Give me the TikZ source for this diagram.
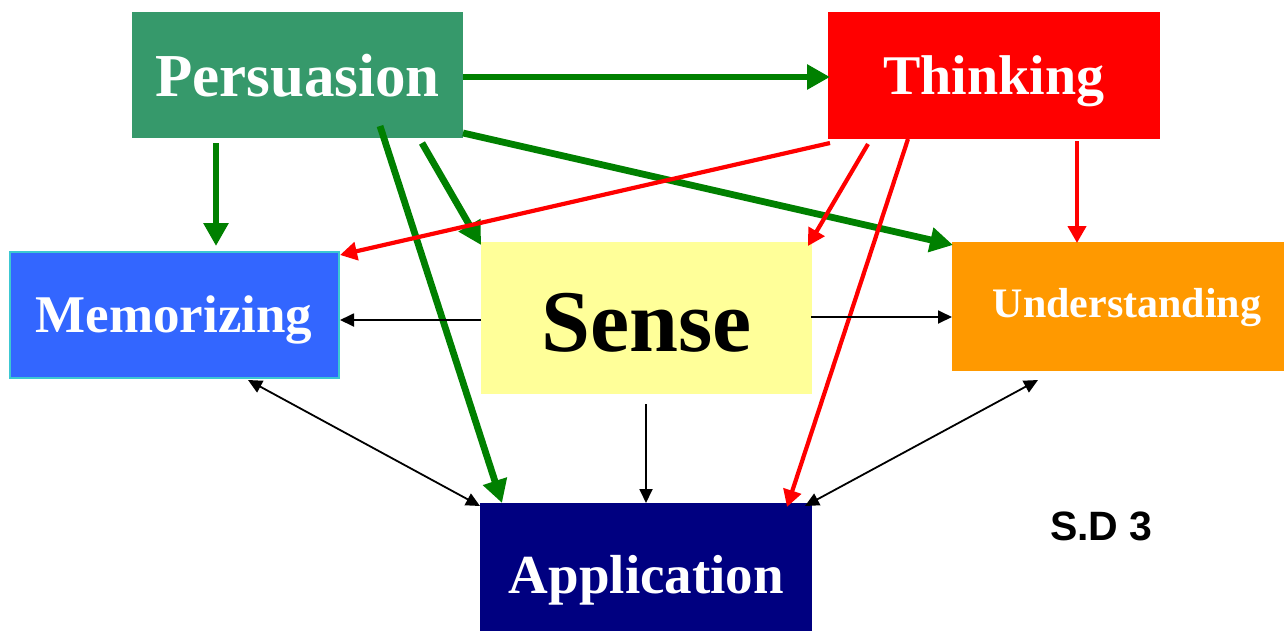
\documentclass[tikz,border=0pt]{standalone}
\usepackage{fontspec}
\setmainfont{Liberation Serif}
\newfontfamily\sdfont{Liberation Sans}
\usetikzlibrary{arrows.meta}
\definecolor{persC}{RGB}{54,153,107}
\definecolor{memC}{RGB}{51,102,255}
\definecolor{memB}{RGB}{60,200,210}
\definecolor{senseC}{RGB}{255,255,153}
\definecolor{undC}{RGB}{255,153,0}
\definecolor{appC}{RGB}{0,0,128}
\definecolor{arrG}{RGB}{0,128,0}
\tikzset{
  box/.style={anchor=north west, inner sep=0pt, outer sep=0pt, draw=none},
  lbl/.style={anchor=base, inner sep=0pt, font=\bfseries, text=white},
  garrow/.style={draw=arrG, line width=6.8pt, -{Triangle[length=23pt,width=24pt]}},
  rarrow/.style={draw=red, line width=4.2pt, -{Triangle[length=17pt,width=18pt]}},
  barrow/.style={draw=black, line width=1.8pt, -{Triangle[length=14pt,width=13pt]}},
  bbarrow/.style={draw=black, line width=1.8pt, {Triangle[length=14pt,width=13pt]}-{Triangle[length=14pt,width=13pt]}},
}
\begin{document}
\begin{tikzpicture}[x=1pt,y=-1pt]
\useasboundingbox (0,0) rectangle (1285,630);
% boxes
\node[box, fill=persC, minimum width=331pt, minimum height=126pt] (pers) at (132,12) {};
\node[box, fill=red, minimum width=332pt, minimum height=127pt] (think) at (828,12) {};
\node[box, fill=memC, draw=memB, line width=2pt, minimum width=329pt, minimum height=126pt] (mem) at (10,252) {};
\node[box, fill=senseC, minimum width=331pt, minimum height=152pt] (sense) at (481,242) {};
\node[box, fill=undC, minimum width=332pt, minimum height=129pt] (und) at (952,242) {};
\node[box, fill=appC, minimum width=332pt, minimum height=130pt] (app) at (480,503) {};
% labels
\node[lbl, font=\bfseries\fontsize{61}{61}\selectfont] (perst) at (297.5,96) {Persuasion};
\node[lbl, font=\bfseries\fontsize{56}{56}\selectfont] (thinkt) at (994,94) {Thinking};
\node[lbl, font=\bfseries\fontsize{53}{53}\selectfont] (memt) at (174,332) {Memorizing};
\node[lbl, text=black, font=\bfseries\fontsize{88}{88}\selectfont] (senset) at (646.5,351) {Sense};
\node[lbl, font=\bfseries\fontsize{42}{42}\selectfont] (undt) at (1127,317) {Understanding};
\node[lbl, font=\bfseries\fontsize{55}{55}\selectfont] (appt) at (646.5,593) {Application};
\node[anchor=base, inner sep=0pt, text=black, font=\sdfont\bfseries\fontsize{41}{41}\selectfont] (sd) at (1101.5,540) {S.D 3};
% connector end points
\coordinate (g1s) at (463,77);   \coordinate (g1e) at (830,77);
\coordinate (g2s) at (216,143);  \coordinate (g2e) at (216,246);
\coordinate (g3s) at (380,126);  \coordinate (g3e) at (502,503);
\coordinate (g4s) at (422,143);  \coordinate (g4e) at (481,245);
\coordinate (g5s) at (463,133);  \coordinate (g5e) at (953,245);
\coordinate (r1s) at (830,143);  \coordinate (r1e) at (340,255);
\coordinate (r2s) at (868,144);  \coordinate (r2e) at (808,246);
\coordinate (r3s) at (908,139);  \coordinate (r3e) at (787,507);
\coordinate (r4s) at (1077,141); \coordinate (r4e) at (1077,243);
\coordinate (b1s) at (481,320);  \coordinate (b1e) at (340,320);
\coordinate (b2s) at (811,317);  \coordinate (b2e) at (952,317);
\coordinate (b3s) at (646,404);  \coordinate (b3e) at (646,503);
\coordinate (b4s) at (248,380);  \coordinate (b4e) at (480,506);
\coordinate (b5s) at (1038,380); \coordinate (b5e) at (805,506);
% green
\draw[garrow] (g1s) -- (g1e);
\draw[garrow] (g2s) -- (g2e);
\draw[garrow] (g3s) -- (g3e);
\draw[garrow] (g4s) -- (g4e);
\draw[garrow] (g5s) -- (g5e);
% red
\draw[rarrow] (r1s) -- (r1e);
\draw[rarrow] (r2s) -- (r2e);
\draw[rarrow] (r3s) -- (r3e);
\draw[rarrow] (r4s) -- (r4e);
% black
\draw[barrow] (b1s) -- (b1e);
\draw[barrow] (b2s) -- (b2e);
\draw[barrow] (b3s) -- (b3e);
\draw[bbarrow] (b4s) -- (b4e);
\draw[bbarrow] (b5s) -- (b5e);
\end{tikzpicture}
\end{document}
